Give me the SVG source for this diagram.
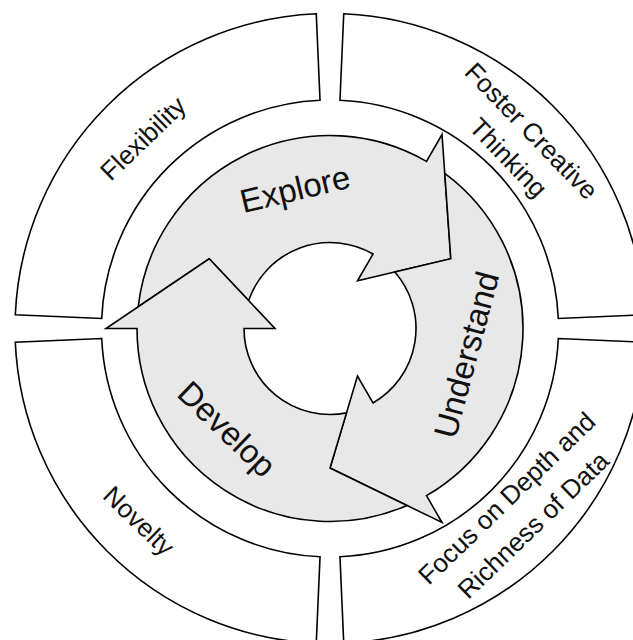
<svg xmlns="http://www.w3.org/2000/svg" xmlns:xlink="http://www.w3.org/1999/xlink" width="633" height="640" viewBox="0 0 633 640">
<style>
.sec{fill:#fff;stroke:#000;stroke-width:1.6;stroke-linejoin:miter}
.arr{fill:#e8e8e8;stroke:#000;stroke-width:1.6;stroke-linejoin:miter}
text{font-family:"Liberation Sans",Arial,Helvetica,sans-serif;fill:#111;text-anchor:middle;dominant-baseline:central}
.in{font-size:33px}
.out{font-size:26px}
</style>
<defs>
<path id="sector" d="M -13.74,-314.7 A 315 315 0 0 0 -314.7,-13.74 L -228.28,-9.97 A 228.5 228.5 0 0 1 -9.97,-228.28 Z"/>
<path id="arrow" d="M -191.77,-21.78 A 193 193 0 0 1 96.5,-167.14 L 112,-193.99 L 120.81,-69.75 L 27.5,-47.63 L 43,-74.48 A 86 86 0 0 0 -81.34,-27.92 L -120.81,-69.75 Z"/>
</defs>
<rect width="633" height="640" fill="#fff"/>
<g id="flexibility">
<use xlink:href="#sector" class="sec" transform="translate(330,328.5)"/>
<text class="out" transform="translate(143,138.5) rotate(-44)">Flexibility</text>
</g>
<g id="foster-creative-thinking">
<use xlink:href="#sector" class="sec" transform="translate(330,328.5) rotate(90)"/>
<text class="out" transform="translate(531.5,131) rotate(46)">Foster Creative</text>
<text class="out" transform="translate(508.3,157.5) rotate(46)">Thinking</text>
</g>
<g id="focus-depth">
<use xlink:href="#sector" class="sec" transform="translate(330,328.5) rotate(180)"/>
<text class="out" transform="translate(506.7,498.3) rotate(-44)">Focus on Depth and</text>
<text class="out" transform="translate(533.3,525) rotate(-44)">Richness of Data</text>
</g>
<g id="novelty">
<use xlink:href="#sector" class="sec" transform="translate(330,328.5) rotate(270)"/>
<text class="out" transform="translate(139,521) rotate(44)">Novelty</text>
</g>
<g id="connectors">
<g id="explore">
<use xlink:href="#arrow" class="arr" transform="translate(330,328.5)"/>
<text class="in" transform="translate(295,189) rotate(-13.5)">Explore</text>
</g>
<g id="understand">
<use xlink:href="#arrow" class="arr" transform="translate(330,328.5) rotate(120)"/>
<text class="in" transform="translate(466.4,354.6) rotate(-75)">Understand</text>
</g>
<g id="develop">
<use xlink:href="#arrow" class="arr" transform="translate(330,328.5) rotate(240)"/>
<text class="in" transform="translate(227,429) rotate(44)">Develop</text>
</g>
</g>
</svg>
